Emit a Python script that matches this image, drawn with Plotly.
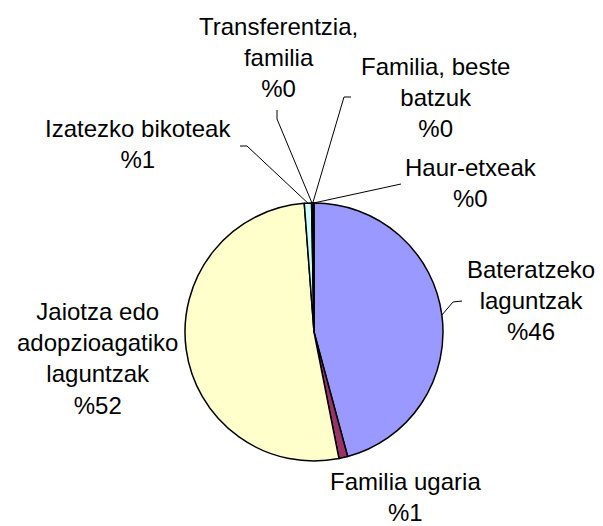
import math
import plotly.graph_objects as go

# ---- data ----
categories = [
    "Bateratzeko laguntzak",
    "Familia ugaria",
    "Jaiotza edo adopzioagatiko laguntzak",
    "Izatezko bikoteak",
    "Transferentzia, familia",
    "Familia, beste batzuk",
    "Haur-etxeak",
]
values = [45.8, 1.1, 51.9, 0.9, 0.1, 0.1, 0.1]
label_texts = [
    "Bateratzeko<br>laguntzak<br>%46",
    "Familia ugaria<br>%1",
    "Jaiotza edo<br>adopzioagatiko<br>laguntzak<br>%52",
    "Izatezko bikoteak<br>%1",
    "Transferentzia,<br>familia<br>%0",
    "Familia, beste<br>batzuk<br>%0",
    "Haur-etxeak<br>%0",
]
colors = ["#9999FF", "#993366", "#FFFFCC", "#CCFFFF", "#660066", "#FF8080", "#0066CC"]

# ---- layout constants (pixels) ----
W, H = 603, 526
CX, CY, R = 314, 332, 129
FONT = dict(family="Liberation Sans, Arial, sans-serif", size=24, color="black")

# label centres (x, y) in pixels
label_pos = [
    (531, 300),
    (405.5, 497),
    (97, 358),
    (137.5, 144),
    (278, 57),
    (435, 97),
    (471, 183),
]
# label-side waypoints of leader lines (None = no leader)
leader_pts = [
    [(462, 301), (453, 302)],
    None,
    None,
    [(240, 146), (247, 146)],
    [(277, 110), (277, 119)],
    [(351, 97), (344, 97)],
    [(401, 184)],
]

fig = go.Figure()
fig.add_trace(go.Pie(
    labels=categories,
    values=values,
    sort=False,
    direction="clockwise",
    rotation=0,
    textinfo="none",
    hoverinfo="label+percent",
    marker=dict(colors=colors, line=dict(color="black", width=1.5)),
    showlegend=False,
    domain=dict(x=[(CX - R) / W, (CX + R) / W], y=[1 - (CY + R) / H, 1 - (CY - R) / H]),
))

# leader lines to mid-angle of each slice, computed from the data
total = sum(values)
cum = 0.0
for v, pts in zip(values, leader_pts):
    mid = (cum + v / 2) / total * 2 * math.pi
    cum += v
    if pts is None:
        continue
    ex = CX + R * math.sin(mid)
    ey = CY - R * math.cos(mid)
    xs = [p[0] for p in pts] + [ex]
    ys = [p[1] for p in pts] + [ey]
    fig.add_trace(go.Scatter(x=xs, y=ys, mode="lines", line=dict(color="black", width=1),
                             hoverinfo="skip", showlegend=False, xaxis="x", yaxis="y"))

for txt, (lx, ly) in zip(label_texts, label_pos):
    fig.add_annotation(x=lx, y=ly, xref="x", yref="y", text=txt, showarrow=False,
                       xanchor="center", yanchor="middle", align="center", font=FONT)

fig.update_layout(
    width=W, height=H,
    margin=dict(l=0, r=0, t=0, b=0),
    paper_bgcolor="white", plot_bgcolor="rgba(0,0,0,0)",
    xaxis=dict(range=[0, W], visible=False, fixedrange=True),
    yaxis=dict(range=[H, 0], visible=False, fixedrange=True),
)

fig.write_html("out.html", post_script="document.body.style.margin='0';",
               config={"displayModeBar": False})
